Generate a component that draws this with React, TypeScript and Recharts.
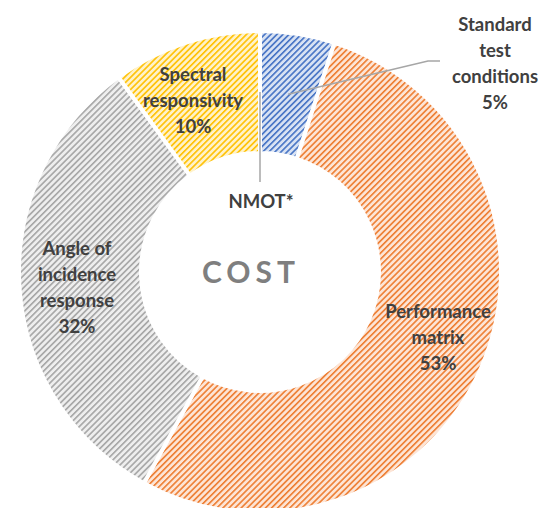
import { PieChart, Pie, Cell } from 'recharts';

const categories = ['Standard test conditions', 'Performance matrix', 'Angle of incidence response', 'Spectral responsivity', 'NMOT*'];
const costShares = [5, 53, 32, 10, 0];
const labelLines = [
  ['Standard', 'test', 'conditions'],
  ['Performance', 'matrix'],
  ['Angle of', 'incidence', 'response'],
  ['Spectral', 'responsivity'],
  ['NMOT*'],
];
const showPercent = [true, true, true, true, false];

const lineColors = ['#4472C4', '#ED7D31', '#A5A5A5', '#FFC000', '#5B9BD5'];
const tintColors = ['#d8e2f3', '#fde5d6', '#eeeeee', '#fff2c9', '#dbe9f6'];

// label block centres, relative to the pie centre
const labelOffsets = [
  [235, -209],
  [178, 65],
  [-183, 15],
  [-67, -172],
  [1, -71],
];

const data = categories.map((name, i) => ({ name, value: costShares[i] }));

const RADIAN = Math.PI / 180;
const LINE_H = 26;
const CAP_H = 13.5;

const renderLabel = (props: any) => {
  const { cx, cy, midAngle, innerRadius, outerRadius, percent, index } = props;
  const lines = [...labelLines[index]];
  if (showPercent[index]) lines.push(`${Math.round(percent * 100)}%`);
  const [dx, dy] = labelOffsets[index];
  const x = cx + dx;
  const yc = cy + dy;
  const midR = (innerRadius + outerRadius) / 2;
  const sx = cx + midR * Math.cos(-midAngle * RADIAN);
  const sy = cy + midR * Math.sin(-midAngle * RADIAN);

  let leader = null;
  if (index === 0) {
    leader = (
      <polyline
        points={`${sx},${sy} ${cx + 168},${cy - 211} ${cx + 180},${cy - 211}`}
        fill="none"
        stroke="#a6a6a6"
        strokeWidth={1.5}
      />
    );
  } else if (index === 4) {
    leader = <line x1={sx} y1={sy} x2={sx} y2={cy - 90} stroke="#a6a6a6" strokeWidth={1.5} />;
  }

  return (
    <g key={`lbl-${index}`}>
      {leader}
      <text
        x={x}
        textAnchor="middle"
        fill="#404040"
        style={{ fontFamily: 'Lato', fontWeight: 700, fontSize: 18.5 }}
      >
        {lines.map((t, i) => (
          <tspan key={i} x={x} y={yc + (i - (lines.length - 1) / 2) * LINE_H + CAP_H / 2}>
            {t}
          </tspan>
        ))}
      </text>
    </g>
  );
};

export default function App() {
  return (
    <div style={{ position: 'absolute', left: 0, top: 0, width: 540, height: 508, background: '#fff' }}>
      <PieChart width={540} height={508}>
        <defs>
          {lineColors.map((c, i) => (
            <pattern
              key={i}
              id={`hatch-${i}`}
              patternUnits="userSpaceOnUse"
              width={4.3}
              height={4.3}
              patternTransform="rotate(45)"
            >
              <rect width={4.3} height={4.3} fill={tintColors[i]} />
              <rect x={0} y={0} width={1.6} height={4.3} fill={c} />
            </pattern>
          ))}
        </defs>
        <Pie
          data={data}
          dataKey="value"
          nameKey="name"
          cx={255}
          cy={267}
          innerRadius={119}
          outerRadius={241}
          startAngle={90}
          endAngle={-270}
          stroke="#ffffff"
          strokeWidth={4}
          label={renderLabel}
          labelLine={false}
          isAnimationActive={false}
        >
          {data.map((d, i) => (
            <Cell key={d.name} fill={`url(#hatch-${i})`} />
          ))}
        </Pie>
        <text
          x={251}
          y={283}
          textAnchor="middle"
          fill="#7f7f7f"
          style={{ fontFamily: 'Lato', fontWeight: 700, fontSize: 30, letterSpacing: 5 }}
        >
          COST
        </text>
      </PieChart>
    </div>
  );
}
